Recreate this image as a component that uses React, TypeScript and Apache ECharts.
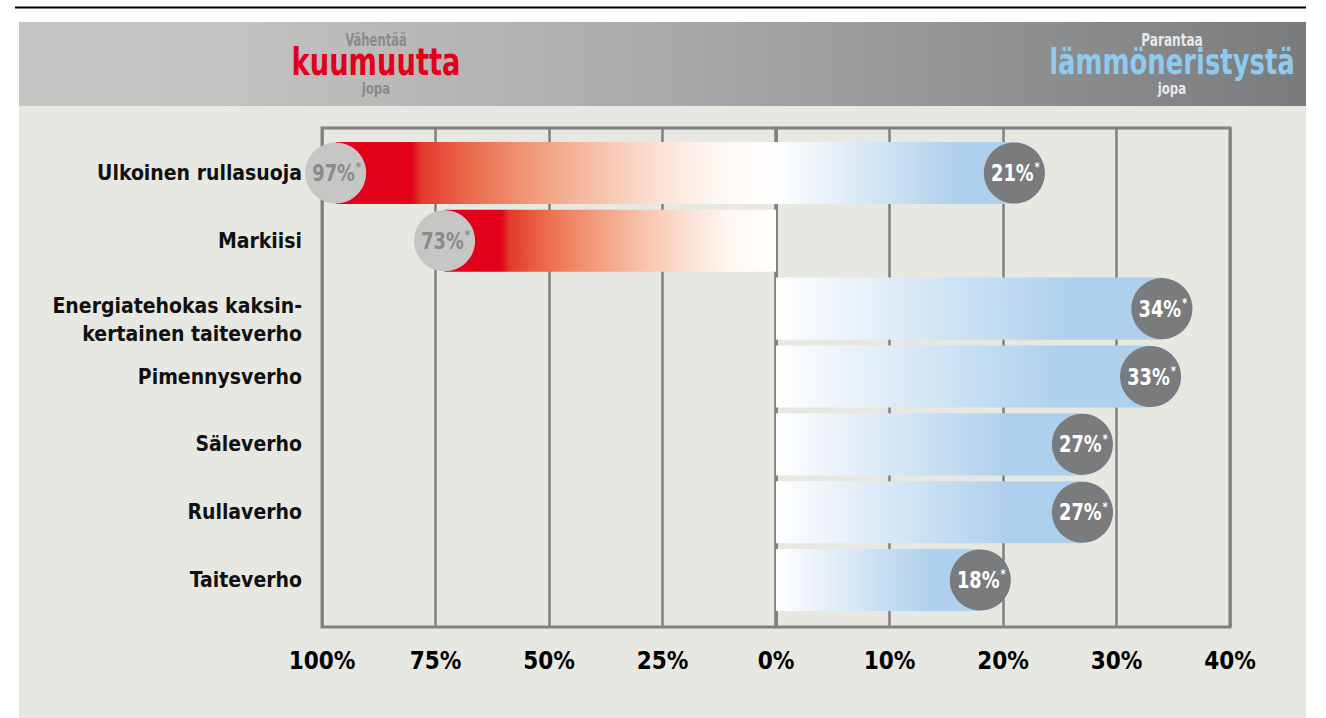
import React, { useEffect, useRef } from "react";
import * as echarts from "echarts";

const categories = [
  "Ulkoinen rullasuoja",
  "Markiisi",
  "Energiatehokas kaksin-\nkertainen taiteverho",
  "Pimennysverho",
  "Säleverho",
  "Rullaverho",
  "Taiteverho",
];
// "Vähentää kuumuutta jopa" (%)
const heatReduction: (number | null)[] = [97, 73, null, null, null, null, null];
// "Parantaa lämmöneristystä jopa" (%)
const insulationGain: (number | null)[] = [21, null, 34, 33, 27, 27, 18];
const leftTicks = { min: 0, max: 100, interval: 25 };
const rightTicks = { min: 0, max: 40, interval: 10 };

const FONT = "'Liberation Sans Narrow','DejaVu Sans Condensed','Roboto Condensed',sans-serif";
const GRID_COLOR = "#808080";

function buildOption() {
  const leftData = heatReduction
    .map((v, i) => (v == null ? null : [v, i]))
    .filter((d) => d !== null);
  const rightData = insulationGain
    .map((v, i) => (v == null ? null : [v, i]))
    .filter((d) => d !== null);

  const pctRich = (color: string) => ({
    v: { fontSize: 23, fontWeight: "bold", fontFamily: FONT, fill: color, color },
    s: { fontSize: 13, fontWeight: "bold", fontFamily: FONT, fill: color, color, padding: [0, 0, 12, 1] },
  });

  const makeRender = (side: "left" | "right") => (params: any, api: any) => {
    const v = api.value(0);
    const c = api.value(1);
    const end = api.coord([v, c]);
    const base = api.coord([0, c]);
    const band = api.size([0, 1])[1];
    const h = band * 0.915;
    const y = end[1] - h / 2;
    const isLeft = side === "left";
    const x = isLeft ? end[0] : base[0];
    const w = Math.abs(base[0] - end[0]);
    const fill = isLeft
      ? new echarts.graphic.LinearGradient(0, 0, 1, 0, [
          { offset: 0, color: "#e2001a" },
          { offset: 0.17, color: "#e2001a" },
          { offset: 0.195, color: "#e3382a" },
          { offset: 0.3, color: "#ea6a4b" },
          { offset: 0.45, color: "#f29b7c" },
          { offset: 0.6, color: "#f7c3aa" },
          { offset: 0.73, color: "#fbe0d3" },
          { offset: 0.86, color: "#fff7f3" },
          { offset: 1, color: "#ffffff" },
        ])
      : new echarts.graphic.LinearGradient(0, 0, 1, 0, [
          { offset: 0, color: "#ffffff" },
          { offset: 0.76, color: "#aed0ec" },
          { offset: 1, color: "#aed0ec" },
        ]);
    const circleColor = isLeft ? "#c6c6c5" : "#7a7b7d";
    const textColor = isLeft ? "#8a8a8a" : "#ffffff";
    return {
      type: "group",
      children: [
        { type: "rect", shape: { x, y, width: w, height: h }, style: { fill } },
        { type: "circle", shape: { cx: end[0], cy: end[1], r: h / 2 - 0.5 }, style: { fill: circleColor } },
        {
          type: "text",
          x: end[0] + 1,
          y: end[1],
          scaleX: 0.86,
          style: {
            text: `{v|${v}%}{s|*}`,
            rich: pctRich(textColor),
            align: "center",
            verticalAlign: "middle",
          },
        },
      ],
    };
  };

  const tickLabelStyle = {
    fontSize: 24,
    fontWeight: "bold",
    fontFamily: FONT,
    color: "#000",
    margin: 22,
  };

  const headText = (text: string, x: number, y: number, size: number, fill: string, sx: number) => ({
    type: "text",
    z: 10,
    x,
    y,
    scaleX: sx,
    style: { text, fill, fontSize: size, fontWeight: "bold", fontFamily: FONT, align: "center", verticalAlign: "middle" },
  });

  return {
    animation: false,
    backgroundColor: "#ffffff",
    graphic: [
      { type: "line", z: -10, shape: { x1: 15, y1: 7.5, x2: 1306, y2: 7.5 }, style: { stroke: "#000", lineWidth: 2 } },
      {
        type: "rect",
        z: -10,
        shape: { x: 19, y: 22, width: 1287, height: 84 },
        style: {
          fill: new echarts.graphic.LinearGradient(0, 0, 1, 0, [
            { offset: 0, color: "#c5c5c4" },
            { offset: 0.15, color: "#c3c3c2" },
            { offset: 0.5, color: "#a9aaaa" },
            { offset: 1, color: "#7a7b7d" },
          ]),
        },
      },
      { type: "rect", z: -10, shape: { x: 19, y: 106, width: 1287, height: 612 }, style: { fill: "#e8e8e3" } },
      headText("Vähentää", 376, 40, 17, "#8a8a8a", 0.76),
      headText("kuumuutta", 376, 62, 37, "#e2001a", 0.82),
      headText("jopa", 376, 88, 16, "#8a8a8a", 0.82),
      headText("Parantaa", 1172, 40, 17, "#e8e8e8", 0.79),
      headText("lämmöneristystä", 1172, 62, 36, "#8ecbef", 0.8),
      headText("jopa", 1172, 88, 16, "#e8e8e8", 0.82),
    ],
    grid: [
      { left: 322, top: 128, width: 454, height: 499, show: true, borderColor: GRID_COLOR, borderWidth: 3, backgroundColor: "transparent" },
      { left: 776, top: 128, width: 454, height: 499, show: true, borderColor: GRID_COLOR, borderWidth: 3, backgroundColor: "transparent" },
      { left: 322, top: 139, width: 454, height: 475 },
      { left: 776, top: 139, width: 454, height: 475 },
    ],
    xAxis: [
      {
        gridIndex: 0,
        type: "value",
        ...leftTicks,
        inverse: true,
        axisLine: { show: false },
        axisTick: { show: false },
        splitLine: { show: true, lineStyle: { color: GRID_COLOR, width: 2.5 } },
        axisLabel: { ...tickLabelStyle, formatter: (v: number) => `${v}%` },
      },
      {
        gridIndex: 1,
        type: "value",
        ...rightTicks,
        axisLine: { show: false },
        axisTick: { show: false },
        splitLine: { show: true, lineStyle: { color: GRID_COLOR, width: 2.5 } },
        axisLabel: { ...tickLabelStyle, formatter: (v: number) => (v === 0 ? "" : `${v}%`) },
      },
      { gridIndex: 2, type: "value", ...leftTicks, inverse: true, show: false },
      { gridIndex: 3, type: "value", ...rightTicks, show: false },
    ],
    yAxis: [
      { gridIndex: 0, type: "value", show: false, splitLine: { show: false } },
      { gridIndex: 1, type: "value", show: false, splitLine: { show: false } },
      {
        gridIndex: 2,
        type: "category",
        data: categories,
        inverse: true,
        axisLine: { show: false },
        axisTick: { show: false },
        splitLine: { show: false },
        axisLabel: {
          margin: 20,
          fontSize: 21,
          fontWeight: "bold",
          fontFamily: FONT,
          color: "#111111",
          formatter: (v: string) =>
            v.includes("\n")
              ? "{g| }\n" + v.split("\n").map((l) => `{t|${l}}`).join("\n")
              : v,
          rich: {
            g: { lineHeight: 22, fontSize: 10 },
            t: { lineHeight: 28, fontSize: 21, fontWeight: "bold", fontFamily: FONT, color: "#111111", align: "right" },
          },
        },
      },
      { gridIndex: 3, type: "category", data: categories, inverse: true, show: false },
    ],
    series: [
      {
        type: "custom",
        name: "Vähentää kuumuutta",
        xAxisIndex: 2,
        yAxisIndex: 2,
        clip: false,
        encode: { x: 0, y: 1 },
        data: leftData,
        renderItem: makeRender("left"),
      },
      {
        type: "custom",
        name: "Parantaa lämmöneristystä",
        xAxisIndex: 3,
        yAxisIndex: 3,
        clip: false,
        encode: { x: 0, y: 1 },
        data: rightData,
        renderItem: makeRender("right"),
      },
    ],
  };
}

export default function App() {
  const ref = useRef<HTMLDivElement>(null);
  useEffect(() => {
    document.body.style.margin = "0";
    if (!ref.current) return;
    const chart = echarts.init(ref.current, null, { renderer: "svg" });
    chart.setOption(buildOption() as any);
    return () => chart.dispose();
  }, []);
  return <div ref={ref} style={{ width: 1326, height: 718 }} />;
}
